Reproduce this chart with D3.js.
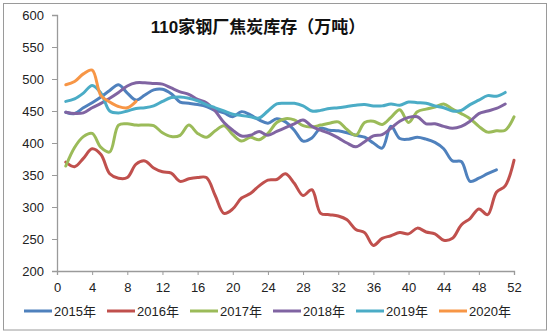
<!DOCTYPE html>
<html><head><meta charset="utf-8">
<script src="https://cdn.jsdelivr.net/npm/d3@7"></script>
<style>
html,body{margin:0;padding:0;background:#fff;}
svg{display:block;}
text{font-family:"Liberation Sans",Arial,"Noto Sans CJK SC",sans-serif;}
</style></head>
<body>
<svg id="chart" width="550" height="333"></svg>
<script>
const title = "110家钢厂焦炭库存（万吨）";
const seriesNames = ["2015年","2016年","2017年","2018年","2019年","2020年"];
const colors = ["#4F81BD","#C0504D","#9BBB59","#8064A2","#4BACC6","#F79646"];
const xTicks = [0,4,8,12,16,20,24,28,32,36,40,44,48,52];
const yTicks = [200,250,300,350,400,450,500,550,600];

// weekly values, week = index + 1
const s2015 = [448,446,455,463,472,482,491,478,467,475,483,484,477,464,462,460,457,451,447,441,449,444,436,431,438,433,420,403,408,423,420,419,416,412,409,400,392,426,407,406,409,406,401,391,372,371,340,345,352,358];
const s2016 = [370,363,376,391,382,352,345,346,367,372,361,355,353,340,344,346,346,318,290,297,314,321,333,342,343,352,337,318,327,290,288,286,280,265,260,240,251,255,260,258,267,261,258,248,251,272,282,297,288,323,333,373];
const s2017 = [364,393,410,415,393,386,428,430,428,428,427,416,410,412,428,415,409,419,427,413,403,409,405,415,432,438,436,427,425,428,431,433,421,412,432,434,429,440,452,432,449,453,456,461,453,446,438,426,417,419,420,441];
const s2018 = [448,446,447,455,462,470,479,489,494,494,493,492,486,480,476,468,463,450,432,420,411,412,418,412,418,424,430,436,426,420,415,408,400,394,402,411,413,423,434,440,441,430,430,426,423,426,434,446,450,454,461];
const s2019 = [465,469,478,490,478,450,447,450,454,455,458,465,471,472,470,466,460,455,450,445,443,441,439,450,461,462,462,458,450,451,454,455,457,459,460,458,458,461,459,464,463,462,458,455,450,451,460,467,474,473,479];
const s2020 = [491,496,508,514,474,464,457,455,465];
const allSeries = [s2015,s2016,s2017,s2018,s2019,s2020];

const svg = d3.select("#chart");
const W = 550, H = 333;
const plot = {left:57, right:514, top:15, bottom:271};

svg.append("rect").attr("x",3.5).attr("y",3.5).attr("width",W-7).attr("height",H-6.5)
  .attr("fill","#fff").attr("stroke","#9a9a9a").attr("stroke-width",1);

const x = d3.scaleLinear().domain([0,52]).range([plot.left, plot.right]);
const y = d3.scaleLinear().domain([200,600]).range([plot.bottom, plot.top]);

const axisColor = "#9a9a9a";
const gx = svg.append("g").attr("transform",`translate(0,${plot.bottom})`)
  .call(d3.axisBottom(x).tickValues(xTicks).tickSize(4).tickPadding(6).tickFormat(d3.format("d")));
const gy = svg.append("g").attr("transform",`translate(${plot.left},0)`)
  .call(d3.axisLeft(y).tickValues(yTicks).tickSize(5).tickPadding(8).tickFormat(d3.format("d")));
[gx,gy].forEach(g=>{
  g.select(".domain").attr("stroke",axisColor).attr("stroke-width",1.3);
  g.selectAll(".tick line").attr("stroke",axisColor).attr("stroke-width",1);
  g.selectAll(".tick text").attr("fill","#222").attr("font-size",13)
    .attr("font-family",'"Liberation Sans",Arial,sans-serif');
});
gx.selectAll(".tick text").attr("dy","0.85em");

const line = d3.line().x((d,i)=>x(i+1)).y(d=>y(d)).curve(d3.curveCatmullRom.alpha(0.5));
allSeries.forEach((s,k)=>{
  svg.append("path").datum(s).attr("d",line).attr("fill","none")
    .attr("stroke",colors[k]).attr("stroke-width",3).attr("stroke-linejoin","round").attr("stroke-linecap","round");
});

svg.append("text").attr("x",258).attr("y",33).attr("text-anchor","middle")
  .attr("font-size",17).attr("font-weight","bold").attr("fill","#111")
  .attr("font-family",'"Noto Sans CJK SC",sans-serif').text(title);

const legend = svg.append("g").attr("transform","translate(24,311)");
seriesNames.forEach((n,k)=>{
  const g = legend.append("g").attr("transform",`translate(${k*83},0)`);
  g.append("line").attr("x1",0).attr("x2",28).attr("y1",0).attr("y2",0)
    .attr("stroke",colors[k]).attr("stroke-width",3);
  g.append("text").attr("x",30).attr("y",0).attr("dy","0.35em").attr("font-size",13)
    .attr("fill","#222").text(n);
});
</script>
</body></html>
